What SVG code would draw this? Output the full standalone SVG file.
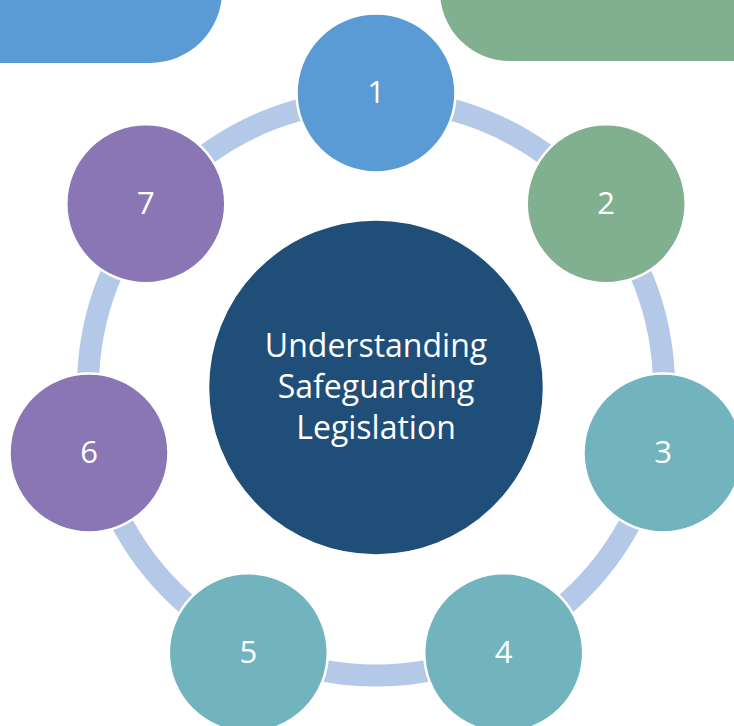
<svg xmlns="http://www.w3.org/2000/svg" width="734" height="726" viewBox="0 0 734 726">
  <style>
    .node { stroke: #ffffff; stroke-width: 2.5; }
    .n-blue { fill: #5B9BD5; }
    .n-green { fill: #80B08F; }
    .n-teal { fill: #71B4BD; }
    .n-purple { fill: #8B76B5; }
    .hub { fill: #1F4E79; stroke: #ffffff; stroke-width: 2.5; }
    .label { font-family: "Open Sans", "Liberation Sans", sans-serif; font-size: 31px; fill: #ffffff; text-anchor: middle; }
    .hub-label { font-size: 32px; }
    .ring { fill: none; stroke: #B4C9E7; stroke-width: 22; }
  </style>

  <!-- corner banners -->
  <rect x="-100" y="-200" width="322" height="263" rx="72" ry="72" fill="#5B9BD5"/>
  <rect x="440" y="-200" width="400" height="261" rx="70" ry="70" fill="#80B08F"/>

  <!-- connecting ring -->
  <g id="connectors">
    <circle class="ring" cx="376" cy="387.4" r="288"/>
  </g>

  <!-- central hub -->
  <g id="hub">
    <circle class="hub" cx="376" cy="387.4" r="168"/>
    <text class="label hub-label" x="376" y="356.5">Understanding</text>
    <text class="label hub-label" x="376" y="397.5">Safeguarding</text>
    <text class="label hub-label" x="376" y="438.5">Legislation</text>
  </g>

  <!-- satellite nodes -->
  <g id="node1">
    <circle class="node n-blue" cx="376" cy="93" r="79.5"/>
    <text class="label" x="376" y="103">1</text>
  </g>
  <g id="node2">
    <circle class="node n-green" cx="606.2" cy="203.8" r="79.5"/>
    <text class="label" x="606.2" y="213.8">2</text>
  </g>
  <g id="node3">
    <circle class="node n-teal" cx="663" cy="452.9" r="79.5"/>
    <text class="label" x="663" y="462.9">3</text>
  </g>
  <g id="node4">
    <circle class="node n-teal" cx="503.7" cy="652.7" r="79.5"/>
    <text class="label" x="503.7" y="662.7">4</text>
  </g>
  <g id="node5">
    <circle class="node n-teal" cx="248.3" cy="652.7" r="79.5"/>
    <text class="label" x="248.3" y="662.7">5</text>
  </g>
  <g id="node6">
    <circle class="node n-purple" cx="89" cy="452.9" r="79.5"/>
    <text class="label" x="89" y="462.9">6</text>
  </g>
  <g id="node7">
    <circle class="node n-purple" cx="145.8" cy="203.8" r="79.5"/>
    <text class="label" x="145.8" y="213.8">7</text>
  </g>
</svg>
